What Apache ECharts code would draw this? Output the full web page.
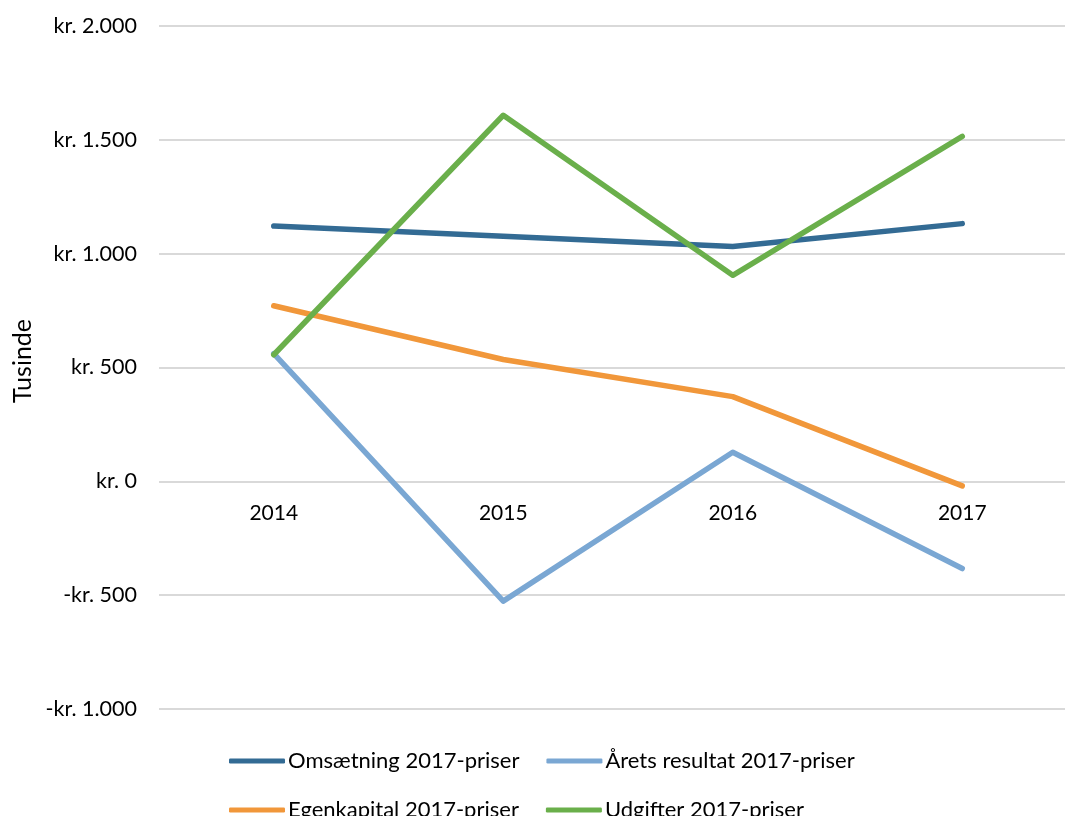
<!DOCTYPE html>
<html>
<head>
<meta charset="utf-8">
<script src="https://cdn.jsdelivr.net/npm/echarts@6/dist/echarts.min.js"></script>
<style>
html,body{margin:0;padding:0;background:#fff;overflow:hidden;width:1065px;height:816px;}
#chart{width:1080px;height:816px;}
</style>
</head>
<body>
<div id="chart"></div>
<script>
const years = ['2014', '2015', '2016', '2017'];
const omsaetning = [1121, 1077, 1031, 1132];
const aaretsResultat = [561, -526, 128, -383];
const egenkapital = [771, 535, 372, -20];
const udgifter = [556, 1608, 905, 1515];
const seriesNames = ['Omsætning 2017-priser', 'Årets resultat 2017-priser', 'Egenkapital 2017-priser', 'Udgifter 2017-priser'];
const yTitle = 'Tusinde';
const colors = ['#336b94', '#7aa7d3', '#f1973a', '#6aaf4b'];

const FONT = 'Lato';
function fmt(v) {
  const a = Math.abs(v);
  const s = a.toString().replace(/\B(?=(\d{3})+(?!\d))/g, '.');
  return (v < 0 ? '-' : '') + 'kr. ' + s;
}

const chart = echarts.init(document.getElementById('chart'), null, {renderer: 'canvas'});
function mkSeries(name, data, color) {
  return {
    name: name, type: 'line', data: data, symbol: 'none', smooth: false,
    lineStyle: {width: 5.5, color: color, cap: 'round', join: 'round'},
    itemStyle: {color: color}
  };
}
const legendCommon = {
  orient: 'horizontal', itemWidth: 56, itemHeight: 5, itemGap: 27, icon: 'roundRect',
  textStyle: {fontFamily: FONT, fontSize: 22, color: '#000', padding: [0, 0, 0, -2]}, padding: 0
};
chart.setOption({
  animation: false,
  backgroundColor: '#fff',
  color: colors,
  grid: {left: 159, top: 26, height: 683, width: 918, containLabel: false},
  xAxis: {
    type: 'category', data: years, boundaryGap: true,
    axisLine: {show: false, onZero: false},
    axisTick: {show: false},
    axisLabel: {fontFamily: FONT, fontSize: 21, color: '#000', margin: -206}
  },
  yAxis: {
    type: 'value', min: -1000, max: 2000, interval: 500,
    axisLine: {show: false}, axisTick: {show: false},
    splitLine: {lineStyle: {color: '#d9d9d9', width: 2}},
    axisLabel: {fontFamily: FONT, fontSize: 21.5, color: '#000', margin: 22, formatter: fmt}
  },
  graphic: [{
    type: 'text', x: 22.5, y: 361, rotation: Math.PI / 2,
    style: {text: yTitle, fontFamily: FONT, fontSize: 25, fill: '#000', align: 'center', verticalAlign: 'middle'}
  }],
  legend: [
    Object.assign({}, legendCommon, {data: [seriesNames[0], seriesNames[1]], left: 229, top: 750}),
    Object.assign({}, legendCommon, {data: [seriesNames[2], seriesNames[3]], left: 229, top: 799})
  ],
  series: [
    mkSeries(seriesNames[0], omsaetning, colors[0]),
    mkSeries(seriesNames[1], aaretsResultat, colors[1]),
    mkSeries(seriesNames[2], egenkapital, colors[2]),
    mkSeries(seriesNames[3], udgifter, colors[3])
  ]
});
</script>
</body>
</html>
